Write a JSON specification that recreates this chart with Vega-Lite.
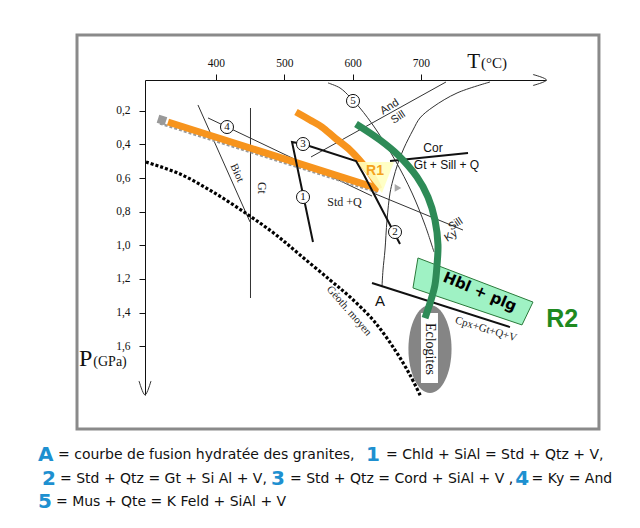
{
  "$schema": "https://vega.github.io/schema/vega-lite/v6.json",
  "width": 401,
  "height": 315,
  "autosize": {"type": "none"},
  "padding": {"left": 145, "top": 80, "right": 94, "bottom": 133},
  "background": "white",
  "config": {"view": {"stroke": null}},
  "datasets": {
    "lines": [
      {"id": "biot", "i": 0, "T": 373.6, "P": 0.166},
      {"id": "biot", "i": 1, "T": 449.8, "P": 0.861},
      {"id": "gt", "i": 0, "T": 450.5, "P": 0.184},
      {"id": "gt", "i": 1, "T": 450.5, "P": 1.313},
      {"id": "l4", "i": 0, "T": 388.3, "P": 0.243},
      {"id": "l4", "i": 1, "T": 628.4, "P": 0.707},
      {"id": "andsill", "i": 0, "T": 539.1, "P": 0.475},
      {"id": "andsill", "i": 1, "T": 736.7, "P": 0.0295},
      {"id": "l5", "i": 0, "T": 564.0, "P": 0.035},
      {"id": "l5", "i": 1, "T": 581.6, "P": 0.065},
      {"id": "l5", "i": 2, "T": 596.2, "P": 0.119},
      {"id": "l5", "i": 3, "T": 610.8, "P": 0.184},
      {"id": "l5", "i": 4, "T": 632.8, "P": 0.303},
      {"id": "l5", "i": 5, "T": 662.1, "P": 0.493},
      {"id": "l5", "i": 6, "T": 687.0, "P": 0.689},
      {"id": "l5", "i": 7, "T": 706.0, "P": 0.879},
      {"id": "l5", "i": 8, "T": 719.2, "P": 1.04},
      {"id": "A", "i": 0, "T": 801.2, "P": 0.0295},
      {"id": "A", "i": 1, "T": 752.9, "P": 0.0948},
      {"id": "A", "i": 2, "T": 717.7, "P": 0.178},
      {"id": "A", "i": 3, "T": 698.7, "P": 0.243},
      {"id": "A", "i": 4, "T": 688.4, "P": 0.315},
      {"id": "A", "i": 5, "T": 675.2, "P": 0.422},
      {"id": "A", "i": 6, "T": 666.5, "P": 0.511},
      {"id": "A", "i": 7, "T": 659.1, "P": 0.612},
      {"id": "A", "i": 8, "T": 654.8, "P": 0.689},
      {"id": "A", "i": 9, "T": 650.4, "P": 0.849},
      {"id": "A", "i": 10, "T": 647.4, "P": 1.028},
      {"id": "A", "i": 11, "T": 644.5, "P": 1.147},
      {"id": "A", "i": 12, "T": 643.0, "P": 1.248},
      {"id": "sillky", "i": 0, "T": 629.9, "P": 0.689},
      {"id": "sillky", "i": 1, "T": 761.6, "P": 0.909},
      {"id": "xarrow", "i": 0, "T": 864.1, "P": -0.0151},
      {"id": "xarrow", "i": 1, "T": 883.9, "P": 0.0176},
      {"id": "xarrow", "i": 2, "T": 864.1, "P": 0.0503},
      {"id": "yarrow", "i": 0, "T": 287.3, "P": 1.806},
      {"id": "yarrow", "i": 1, "T": 296.05, "P": 1.889},
      {"id": "yarrow", "i": 2, "T": 304.8, "P": 1.806},
      {"id": "l1", "i": 0, "T": 542.0, "P": 0.98},
      {"id": "l1", "i": 1, "T": 511.3, "P": 0.386},
      {"id": "l1", "i": 2, "T": 527.4, "P": 0.398},
      {"id": "l32", "i": 0, "T": 527.4, "P": 0.398},
      {"id": "l32", "i": 1, "T": 605.0, "P": 0.499},
      {"id": "l32", "i": 2, "T": 616.7, "P": 0.582},
      {"id": "l32", "i": 3, "T": 669.4, "P": 0.992},
      {"id": "cor", "i": 0, "T": 654.8, "P": 0.499},
      {"id": "cor", "i": 1, "T": 769.0, "P": 0.451},
      {"id": "cpx", "i": 0, "T": 628.4, "P": 1.224},
      {"id": "cpx", "i": 1, "T": 830.4, "P": 1.486},
      {"id": "geo", "i": 0, "T": 297.5, "P": 0.505},
      {"id": "geo", "i": 1, "T": 347.3, "P": 0.576},
      {"id": "geo", "i": 2, "T": 395.6, "P": 0.683},
      {"id": "geo", "i": 3, "T": 445.4, "P": 0.814},
      {"id": "geo", "i": 4, "T": 486.4, "P": 0.933},
      {"id": "geo", "i": 5, "T": 523.0, "P": 1.057},
      {"id": "geo", "i": 6, "T": 566.9, "P": 1.206},
      {"id": "geo", "i": 7, "T": 596.2, "P": 1.307},
      {"id": "geo", "i": 8, "T": 631.3, "P": 1.45},
      {"id": "geo", "i": 9, "T": 662.1, "P": 1.622},
      {"id": "geo", "i": 10, "T": 684.0, "P": 1.77},
      {"id": "geo", "i": 11, "T": 700.1, "P": 1.901},
      {"id": "gray", "i": 0, "T": 318.0, "P": 0.276},
      {"id": "gray", "i": 1, "T": 637.2, "P": 0.686},
      {"id": "or1", "i": 0, "T": 329.7, "P": 0.267},
      {"id": "or1", "i": 1, "T": 638.6, "P": 0.665},
      {"id": "or2", "i": 0, "T": 517.1, "P": 0.208},
      {"id": "or2", "i": 1, "T": 537.6, "P": 0.255},
      {"id": "or2", "i": 2, "T": 555.2, "P": 0.297},
      {"id": "or2", "i": 3, "T": 574.2, "P": 0.362},
      {"id": "or2", "i": 4, "T": 596.2, "P": 0.434},
      {"id": "or2", "i": 5, "T": 613.8, "P": 0.511},
      {"id": "or2", "i": 6, "T": 628.4, "P": 0.588},
      {"id": "or2", "i": 7, "T": 638.6, "P": 0.665},
      {"id": "green", "i": 0, "T": 605.0, "P": 0.279},
      {"id": "green", "i": 1, "T": 640.1, "P": 0.374},
      {"id": "green", "i": 2, "T": 666.5, "P": 0.463},
      {"id": "green", "i": 3, "T": 694.3, "P": 0.594},
      {"id": "green", "i": 4, "T": 710.4, "P": 0.713},
      {"id": "green", "i": 5, "T": 720.6, "P": 0.849},
      {"id": "green", "i": 6, "T": 725.0, "P": 0.998},
      {"id": "green", "i": 7, "T": 723.6, "P": 1.117},
      {"id": "green", "i": 8, "T": 720.6, "P": 1.235},
      {"id": "green", "i": 9, "T": 714.8, "P": 1.325},
      {"id": "green", "i": 10, "T": 706.0, "P": 1.432}
    ],
    "circles": [
      {"n": "1", "T": 527.4, "P": 0.713},
      {"n": "2", "T": 662.1, "P": 0.921},
      {"n": "3", "T": 527.4, "P": 0.398},
      {"n": "4", "T": 416.1, "P": 0.297},
      {"n": "5", "T": 600.6, "P": 0.142}
    ],
    "captionBlack": [
      {"t": "= courbe de fusion hydratée des granites,", "T": 168.7, "P": 2.246},
      {"t": "= Chld + SiAl = Std + Qtz + V,", "T": 648.9, "P": 2.246},
      {"t": "= Std + Qtz = Gt + Si Al + V,", "T": 171.6, "P": 2.388},
      {"t": "= Std + Qtz = Cord + SiAl + V ,", "T": 508.3, "P": 2.388},
      {"t": "= Ky = And", "T": 862.0, "P": 2.388},
      {"t": "= Mus + Qte = K Feld + SiAl + V", "T": 165.7, "P": 2.525}
    ],
    "captionBlue": [
      {"t": "A", "T": 139.4, "P": 2.246},
      {"t": "1", "T": 619.6, "P": 2.246},
      {"t": "2", "T": 145.2, "P": 2.388},
      {"t": "3", "T": 480.5, "P": 2.388},
      {"t": "4", "T": 838.0, "P": 2.388},
      {"t": "5", "T": 139.4, "P": 2.525}
    ]
  },
  "encoding": {
    "x": {
      "field": "T", "type": "quantitative",
      "scale": {"domain": [296.05, 883.16], "nice": false, "zero": false},
      "axis": {"orient": "top", "values": [400, 500, 600, 700], "title": null, "grid": false,
        "tickSize": 6, "labelPadding": 6, "labelFont": "Liberation Serif", "labelFontSize": 11.5,
        "labelColor": "#111", "tickColor": "#111", "domainColor": "#111", "labelFlush": false,
        "labelOverlap": false, "labelAngle": 0}
    },
    "y": {
      "field": "P", "type": "quantitative",
      "scale": {"domain": [0.0176, 1.8893], "reverse": true, "nice": false, "zero": false},
      "axis": {"orient": "left", "values": [0.2, 0.4, 0.6, 0.8, 1.0, 1.2, 1.4, 1.6],
        "labelExpr": "replace(format(datum.value, '.1f'), '.', ',')", "title": null, "grid": false,
        "tickSize": 6, "labelPadding": 9, "labelFont": "Liberation Serif", "labelFontSize": 11.5,
        "labelColor": "#111", "tickColor": "#111", "domainColor": "#111", "labelFlush": false,
        "labelOverlap": false}
    }
  },
  "layer": [
    {
      "data": {"values": [{"T": 196.5, "T2": 960.7, "P": -0.2498, "P2": 2.0913}]},
      "mark": {"type": "rect", "fill": null, "stroke": "#8a8a8a", "strokeWidth": 3},
      "encoding": {"x2": {"field": "T2"}, "y2": {"field": "P2"}}
    },
    {
      "data": {"name": "lines"},
      "transform": [{"filter": {"field": "id", "oneOf": ["biot", "gt", "l4", "andsill", "l5", "A", "sillky", "xarrow", "yarrow"]}}],
      "mark": {"type": "line", "color": "#333", "strokeWidth": 1, "interpolate": "catmull-rom"},
      "encoding": {"detail": {"field": "id"}, "order": {"field": "i"}}
    },
    {
      "data": {"name": "lines"},
      "transform": [{"filter": {"field": "id", "equal": "geo"}}],
      "mark": {"type": "line", "color": "#000", "strokeWidth": 3.2, "strokeDash": [3, 2], "interpolate": "catmull-rom"},
      "encoding": {"order": {"field": "i"}}
    },
    {
      "data": {"name": "lines"},
      "transform": [{"filter": {"field": "id", "equal": "gray"}}],
      "mark": {"type": "line", "color": "#9a9a9a", "strokeWidth": 2.5, "strokeDash": [3, 2]},
      "encoding": {"order": {"field": "i"}}
    },
    {
      "data": {"values": [{"T": 320.9, "P": 0.255}]},
      "mark": {"type": "point", "shape": "square", "filled": true, "color": "#999", "size": 70, "angle": 18, "opacity": 1}
    },
    {
      "data": {"values": [{"T": 666.5, "P": 0.659}]},
      "mark": {"type": "point", "shape": "triangle-right", "filled": true, "color": "#aaa", "size": 60, "opacity": 1}
    },
    {
      "data": {"name": "lines"},
      "transform": [{"filter": {"field": "id", "oneOf": ["or1", "or2"]}}],
      "mark": {"type": "line", "color": "#f7941d", "strokeWidth": 7, "interpolate": "catmull-rom"},
      "encoding": {"detail": {"field": "id"}, "order": {"field": "i"}}
    },
    {
      "data": {"values": [
        {"T": 606.4, "P": 0.505, "P2": 0.505},
        {"T": 643.0, "P": 0.505, "P2": 0.689},
        {"T": 660.6, "P": 0.505, "P2": 0.505}
      ]},
      "mark": {"type": "area", "color": "#ffffc0", "opacity": 0.9},
      "encoding": {"y2": {"field": "P2"}}
    },
    {
      "data": {"name": "lines"},
      "transform": [{"filter": {"field": "id", "oneOf": ["l1", "l32", "cor", "cpx"]}}],
      "mark": {"type": "line", "color": "#111", "strokeWidth": 2},
      "encoding": {"detail": {"field": "id"}, "order": {"field": "i"}}
    },
    {
      "data": {"values": [{"T": 713.3, "P": 1.616}]},
      "mark": {"type": "point", "shape": "M 0 -1 C 0.2706 -1 0.49 -0.5523 0.49 0 C 0.49 0.5523 0.2706 1 0 1 C -0.2706 1 -0.49 0.5523 -0.49 0 C -0.49 -0.5523 -0.2706 -1 0 -1 Z", "filled": true, "color": "#858585", "size": 7744, "opacity": 1}
    },
    {
      "data": {"values": [{"T": 700.1, "T2": 725.0, "P": 1.402, "P2": 1.818}]},
      "mark": {"type": "rect", "fill": "white"},
      "encoding": {"x2": {"field": "T2"}, "y2": {"field": "P2"}}
    },
    {
      "data": {"values": [{"t": "Eclogites", "T": 713.3, "P": 1.616}]},
      "mark": {"type": "text", "angle": 90, "font": "Liberation Serif", "fontSize": 14, "color": "#111", "align": "center", "baseline": "middle"},
      "encoding": {"text": {"field": "t"}}
    },
    {
      "data": {"values": [
        {"T": 688.4, "P": 1.253, "P2": 1.253},
        {"T": 695.7, "P": 1.075, "P2": 1.264},
        {"T": 848.0, "P": 1.312, "P2": 1.473},
        {"T": 864.1, "P": 1.337, "P2": 1.337}
      ]},
      "mark": {"type": "area", "fill": "#9ff2c4", "stroke": "#2a7a3a", "strokeWidth": 1, "opacity": 1},
      "encoding": {"y2": {"field": "P2"}}
    },
    {
      "data": {"name": "lines"},
      "transform": [{"filter": {"field": "id", "equal": "green"}}],
      "mark": {"type": "line", "color": "#2e8b57", "strokeWidth": 7, "interpolate": "catmull-rom"},
      "encoding": {"order": {"field": "i"}}
    },
    {
      "data": {"name": "circles"},
      "mark": {"type": "point", "shape": "circle", "filled": true, "fill": "white", "stroke": "#111", "strokeWidth": 1, "size": 170, "opacity": 1}
    },
    {
      "data": {"name": "circles"},
      "mark": {"type": "text", "font": "Liberation Serif", "fontSize": 11, "color": "#111", "align": "center", "baseline": "middle"},
      "encoding": {"text": {"field": "n"}}
    },
    {
      "data": {"values": [{"t": "Biot", "T": 430.7, "P": 0.57}]},
      "mark": {"type": "text", "angle": 66, "font": "Liberation Serif", "fontSize": 11, "color": "#222", "align": "center", "baseline": "middle"},
      "encoding": {"text": {"field": "t"}}
    },
    {
      "data": {"values": [{"t": "Gt", "T": 467.3, "P": 0.659}]},
      "mark": {"type": "text", "angle": 90, "font": "Liberation Serif", "fontSize": 12, "color": "#222", "align": "center", "baseline": "middle"},
      "encoding": {"text": {"field": "t"}}
    },
    {
      "data": {"values": [{"t": "Std +Q", "T": 588.1, "P": 0.741}]},
      "mark": {"type": "text", "font": "Liberation Serif", "fontSize": 12, "color": "#222", "align": "center", "baseline": "middle"},
      "encoding": {"text": {"field": "t"}}
    },
    {
      "data": {"values": [{"t": "And", "T": 654.3, "P": 0.178}, {"t": "Sill", "T": 666.9, "P": 0.24}, {"t": "Sill", "T": 750.9, "P": 0.875}, {"t": "Ky", "T": 744.1, "P": 0.945}]},
      "mark": {"type": "text", "angle": -33, "font": "Liberation Sans", "fontSize": 11, "color": "#222", "align": "center", "baseline": "middle"},
      "encoding": {"text": {"field": "t"}}
    },
    {
      "data": {"values": [{"t": "Cor", "T": 717.7, "P": 0.422}, {"t": "Gt + Sill + Q", "T": 737.5, "P": 0.523}]},
      "mark": {"type": "text", "font": "Liberation Sans", "fontSize": 12, "color": "#111", "align": "center", "baseline": "middle"},
      "encoding": {"text": {"field": "t"}}
    },
    {
      "data": {"values": [{"t": "A", "T": 640.1, "P": 1.33}]},
      "mark": {"type": "text", "font": "Liberation Sans", "fontSize": 15, "color": "#111", "align": "center", "baseline": "middle"},
      "encoding": {"text": {"field": "t"}}
    },
    {
      "data": {"values": [{"t": "Géoth. moyen", "T": 594.7, "P": 1.39}]},
      "mark": {"type": "text", "angle": 49, "font": "Liberation Serif", "fontSize": 11, "color": "#222", "align": "center", "baseline": "middle"},
      "encoding": {"text": {"field": "t"}}
    },
    {
      "data": {"values": [{"t": "Cpx+Gt+Q+V", "T": 795.3, "P": 1.5}]},
      "mark": {"type": "text", "angle": 17, "font": "Liberation Serif", "fontSize": 11, "color": "#222", "align": "center", "baseline": "middle"},
      "encoding": {"text": {"field": "t"}}
    },
    {
      "data": {"values": [{"t": "Hbl + plg", "T": 786.5, "P": 1.275}]},
      "mark": {"type": "text", "angle": 23, "font": "DejaVu Sans", "fontWeight": "bold", "fontSize": 15, "color": "#000", "align": "center", "baseline": "middle"},
      "encoding": {"text": {"field": "t"}}
    },
    {
      "data": {"values": [{"t": "R1", "T": 632.8, "P": 0.558}]},
      "mark": {"type": "text", "font": "Liberation Sans", "fontWeight": "bold", "fontSize": 14, "color": "#f5a21e", "align": "center", "baseline": "middle"},
      "encoding": {"text": {"field": "t"}}
    },
    {
      "data": {"values": [{"t": "R2", "T": 907.0, "P": 1.439}]},
      "mark": {"type": "text", "font": "Liberation Sans", "fontWeight": "bold", "fontSize": 25, "color": "#1f8a1f", "align": "center", "baseline": "middle"},
      "encoding": {"text": {"field": "t"}}
    },
    {
      "data": {"values": [{"t": "T", "T": 786.5, "P": -0.0537}]},
      "mark": {"type": "text", "font": "Liberation Serif", "fontSize": 21, "color": "#111", "align": "right", "baseline": "alphabetic"},
      "encoding": {"text": {"field": "t"}}
    },
    {
      "data": {"values": [{"t": "(°C)", "T": 788.0, "P": -0.0537}]},
      "mark": {"type": "text", "font": "Liberation Serif", "fontSize": 15, "color": "#111", "align": "left", "baseline": "alphabetic"},
      "encoding": {"text": {"field": "t"}}
    },
    {
      "data": {"values": [{"t": "P", "T": 219.0, "P": 1.717}]},
      "mark": {"type": "text", "font": "Liberation Serif", "fontSize": 24, "color": "#111", "align": "right", "baseline": "alphabetic"},
      "encoding": {"text": {"field": "t"}}
    },
    {
      "data": {"values": [{"t": "(GPa)", "T": 220.4, "P": 1.717}]},
      "mark": {"type": "text", "font": "Liberation Serif", "fontSize": 14, "color": "#111", "align": "left", "baseline": "alphabetic"},
      "encoding": {"text": {"field": "t"}}
    },
    {
      "data": {"name": "captionBlack"},
      "mark": {"type": "text", "font": "DejaVu Sans", "fontSize": 14, "color": "#111", "align": "left", "baseline": "middle"},
      "encoding": {"text": {"field": "t"}}
    },
    {
      "data": {"name": "captionBlue"},
      "mark": {"type": "text", "font": "DejaVu Sans", "fontWeight": "bold", "fontSize": 20, "color": "#1e90d0", "align": "left", "baseline": "middle"},
      "encoding": {"text": {"field": "t"}}
    }
  ]
}
